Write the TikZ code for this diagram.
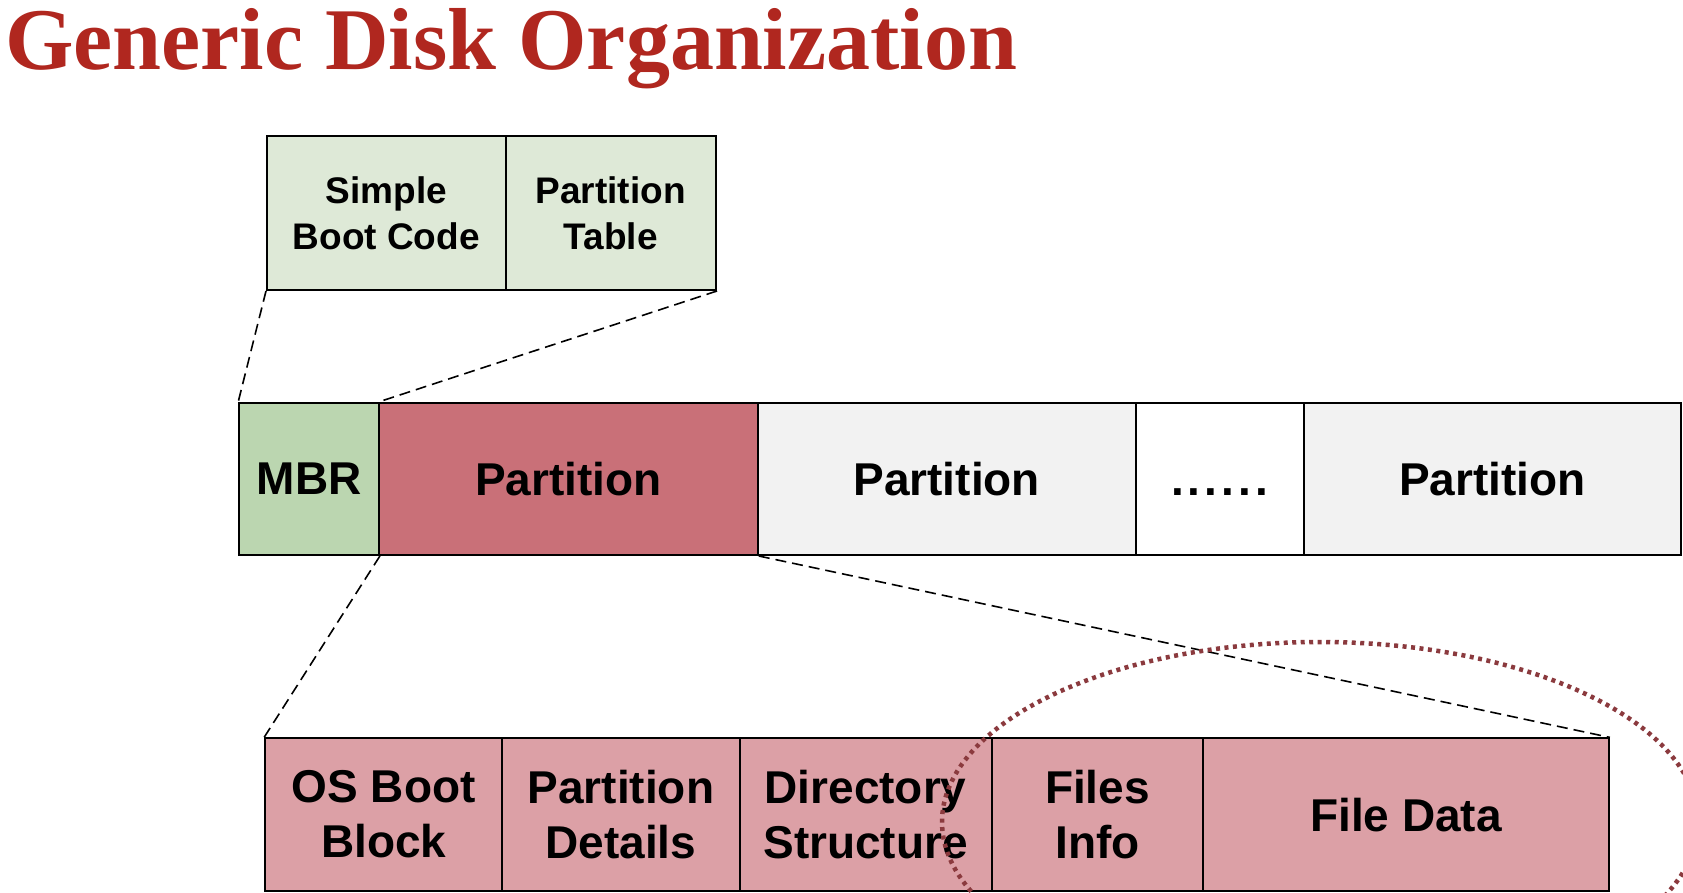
\documentclass[tikz,border=0pt]{standalone}
\usepackage{fontspec}
\setmainfont{Liberation Sans}
\newfontfamily\titlefont{Liberation Serif}
\definecolor{titlered}{RGB}{176,39,31}
\definecolor{lightgreen}{RGB}{222,233,215}
\definecolor{mbrgreen}{RGB}{187,214,176}
\definecolor{partred}{RGB}{201,112,120}
\definecolor{partgray}{RGB}{242,242,242}
\definecolor{pinkcell}{RGB}{220,160,166}
\definecolor{ellred}{RGB}{139,58,62}
\newcommand{\mydot}{.\kern4.2pt}
\begin{document}
\begin{tikzpicture}[x=1pt,y=-1pt,
  cell/.style={draw=black, line width=2pt, inner sep=0pt, align=center,
    font=\bfseries\fontsize{46}{55}\selectfont},
  topcell/.style={cell, font=\bfseries\fontsize{37}{46}\selectfont},
  zoomline/.style={draw=black, line width=1.6pt, dash pattern=on 11pt off 6pt},
  highlight/.style={draw=ellred, line width=4.5pt, dash pattern=on 4pt off 4.5pt}]
\useasboundingbox (0,0) rectangle (1683,893);
\clip (0,0) rectangle (1683,893);
\fill[white] (0,0) rectangle (1683,893);
% title
\node[anchor=base west, inner sep=0pt, text=titlered,
  font=\titlefont\bfseries\fontsize{88}{100}\selectfont] (title) at (5,70) {Generic Disk Organization};
% top zoom boxes
\node[topcell, fill=lightgreen, minimum width=238.5pt, minimum height=154pt] (boot) at (386.25,213) {Simple\\Boot Code};
\node[topcell, fill=lightgreen, minimum width=210.5pt, minimum height=154pt] (ptable) at (610.75,213) {Partition\\Table};
% middle disk bar
\node[cell, fill=mbrgreen, minimum width=139.6pt, minimum height=152.5pt] (mbr) at (309.1,478.75) {MBR};
\node[cell, fill=partred, minimum width=378.9pt, minimum height=152.5pt] (p1) at (568.35,478.75) {Partition};
\node[cell, fill=partgray, minimum width=377.8pt, minimum height=152.5pt] (p2) at (946.7,478.75) {Partition};
\node[cell, fill=white, minimum width=168.5pt, minimum height=152.5pt, text depth=0pt, text height=34pt] (dots) at (1219.85,478.75) {\mydot\mydot\mydot\mydot\mydot.};
\node[cell, fill=partgray, minimum width=376.9pt, minimum height=152.5pt] (p3) at (1492.55,478.75) {Partition};
% bottom partition detail
\node[cell, fill=pinkcell, minimum width=237.2pt, minimum height=152.4pt] (osb) at (383.7,814.6) {OS Boot\\Block};
\node[cell, fill=pinkcell, minimum width=237.2pt, minimum height=152.4pt] (pdet) at (620.9,814.6) {Partition\\Details};
\node[cell, fill=pinkcell, minimum width=252.2pt, minimum height=152.4pt] (dir) at (865.6,814.6) {Directory\\Structure};
\node[cell, fill=pinkcell, minimum width=211.5pt, minimum height=152.4pt] (finfo) at (1097.45,814.6) {Files\\Info};
\node[cell, fill=pinkcell, minimum width=405.7pt, minimum height=152.4pt] (fdata) at (1406.05,814.6) {File Data};
% zoom connectors
\draw[zoomline] (boot.south west) -- (mbr.north west);
\draw[zoomline] (ptable.south east) -- (mbr.north east);
\draw[zoomline] (mbr.south east) -- (osb.north west);
\draw[zoomline] (p1.south east) -- (fdata.north east);
% highlight ellipse
\coordinate (ellc) at (1320,822);
\draw[highlight] (ellc) ellipse [x radius=378pt, y radius=180pt];
\end{tikzpicture}
\end{document}
